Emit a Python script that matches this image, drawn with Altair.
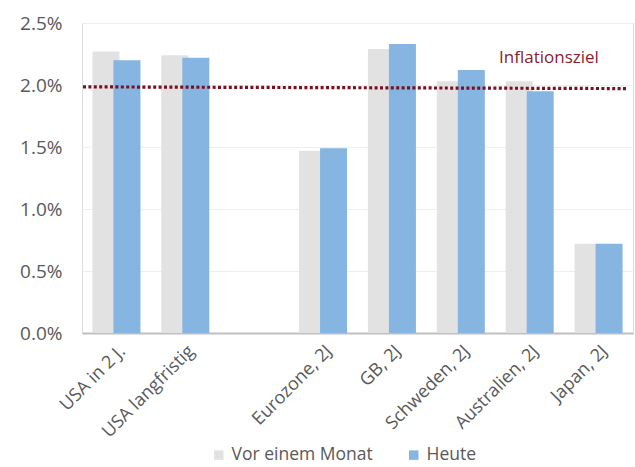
import altair as alt
import pandas as pd

categories = ["USA in 2 J.", "USA langfristig", " ", "Eurozone, 2J", "GB, 2J",
              "Schweden, 2J", "Australien, 2J", "Japan, 2J"]
bar_categories = ["USA in 2 J.", "USA langfristig", "Eurozone, 2J", "GB, 2J",
                  "Schweden, 2J", "Australien, 2J", "Japan, 2J"]
vor_einem_monat = [2.27, 2.24, 1.47, 2.29, 2.03, 2.03, 0.72]
heute = [2.20, 2.22, 1.49, 2.33, 2.12, 1.95, 0.72]
series = ["Vor einem Monat", "Heute"]
colors = ["#e3e2e3", "#86b5e1"]
target_start, target_end = 1.985, 1.971
target_label = "Inflationsziel"
target_label_y = 2.22

FONT = "Open Sans"
GREY = "#595959"

rows = []
for s, vals in zip(series, [vor_einem_monat, heute]):
    for c, v in zip(bar_categories, vals):
        rows.append({"Kategorie": c, "Serie": s, "Wert": v / 100})
df = pd.DataFrame(rows)

bars = alt.Chart(df).mark_bar(size=27).encode(
    x=alt.X("Kategorie:N", sort=categories,
            scale=alt.Scale(domain=categories, paddingInner=0.39, paddingOuter=0.195),
            axis=alt.Axis(title=None, labelAngle=-45, labelFontSize=18, labelFont=FONT,
                          labelColor=GREY, ticks=False, domainColor="#bfbfbf",
                          domainWidth=2, labelPadding=9, grid=False)),
    xOffset=alt.XOffset("Serie:N", sort=series, scale=alt.Scale(domain=series, paddingInner=0, paddingOuter=0)),
    y=alt.Y("Wert:Q", scale=alt.Scale(domain=[0, 0.025], nice=False),
            axis=alt.Axis(title=None, format=".1%", values=[0, 0.005, 0.01, 0.015, 0.02, 0.025],
                          labelFontSize=19, labelFont=FONT, labelColor=GREY, ticks=False,
                          domain=False, gridColor="#eeeeee", gridWidth=1, labelPadding=20)),
    color=alt.Color("Serie:N", sort=series,
                    scale=alt.Scale(domain=series, range=colors),
                    legend=alt.Legend(title=None, orient="none", direction="horizontal",
                                      legendX=128, legendY=423, symbolType="square",
                                      symbolSize=90, symbolStrokeWidth=0, labelFontSize=17.5,
                                      labelFont=FONT, labelColor=GREY, columnPadding=32,
                                      labelOffset=4)),
    order=alt.Order("Serie:N", sort="descending"),
)

line_df = pd.DataFrame({"y": [target_start / 100], "y2": [target_end / 100]})
rule = alt.Chart(line_df).mark_rule(color="#7a0f1e", strokeWidth=3.2, strokeDash=[3, 2.4]).encode(
    x=alt.value(1), x2=alt.value(546),
    y="y:Q", y2="y2:Q",
)

text_df = pd.DataFrame({"t": [target_label], "y": [target_label_y / 100]})
label = alt.Chart(text_df).mark_text(color="#8b1c2c", fontSize=17, font=FONT, align="center",
                                     baseline="middle").encode(
    x=alt.value(467), y="y:Q", text="t:N")

chart = alt.layer(bars, rule, label).properties(
    width=551, height=310,
    padding={"left": 82, "top": 23, "right": 2, "bottom": 134},
    autosize=alt.AutoSizeParams(type="none"),
).configure_view(strokeWidth=0, stroke="transparent").configure(background="white")

chart.save("out.html", embed_options={"renderer": "svg", "actions": False})
